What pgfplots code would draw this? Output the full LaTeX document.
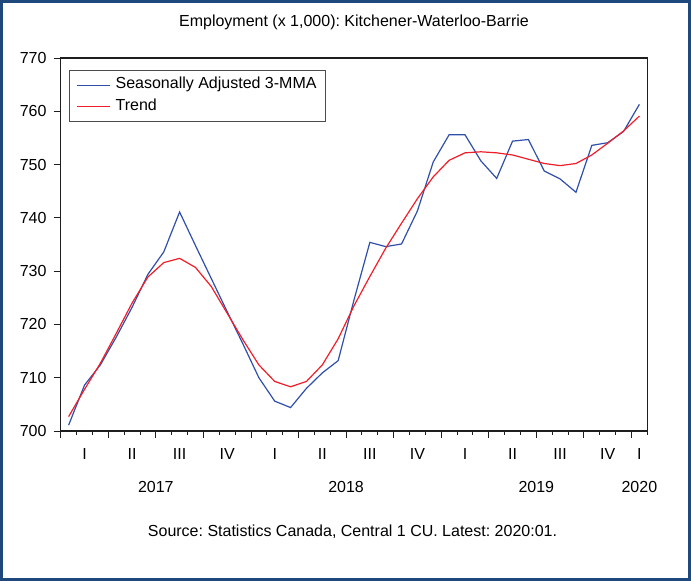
\documentclass[border=0pt]{standalone}
\usepackage{pgfplots}
\pgfplotsset{compat=1.18}
\usepackage{fontspec}
\setmainfont{Liberation Sans}
\definecolor{sablue}{RGB}{47,79,170}
\definecolor{trendred}{RGB}{240,30,40}
\definecolor{framec}{RGB}{31,73,125}
\definecolor{axisc}{RGB}{30,30,30}
\pgfplotstableread{
x sa trend
0.5 701.1 702.7
1.5 708.6 707.8
2.5 712.4 712.7
3.5 717.6 718.3
4.5 723.2 724.0
5.5 729.4 728.9
6.5 733.6 731.6
7.5 741.1 732.4
8.5 734.8 730.7
9.5 728.6 727.1
10.5 722.4 722.1
11.5 716.3 717.1
12.5 710.0 712.4
13.5 705.6 709.3
14.5 704.4 708.3
15.5 708.0 709.3
16.5 710.9 712.4
17.5 713.2 717.3
18.5 724.6 723.5
19.5 735.4 729.0
20.5 734.6 734.3
21.5 735.1 739.0
22.5 741.3 743.6
23.5 750.5 747.7
24.5 755.6 750.8
25.5 755.6 752.2
26.5 750.7 752.4
27.5 747.4 752.2
28.5 754.4 751.8
29.5 754.7 751.0
30.5 748.8 750.2
31.5 747.3 749.8
32.5 744.8 750.2
33.5 753.6 751.8
34.5 754.1 754.0
35.5 756.2 756.3
36.5 761.3 759.1
}\datatable
\begin{document}
\frenchspacing
\fontsize{16pt}{19pt}\selectfont
\begin{tikzpicture}[x=1pt,y=1pt]
\draw[framec, line width=3pt] (1.5,1.5) rectangle (689.5,579.5);
\node[anchor=base] at (354,554.3) {Employment (x 1,000): Kitchener-Waterloo-Barrie};
\node[anchor=base] at (352.5,44.3) {Source: Statistics Canada, Central 1 CU. Latest: 2020:01.};
\begin{axis}[
  at={(60.7pt,150pt)}, anchor=south west,
  scale only axis, width=586.6pt, height=373pt,
  xmin=0, xmax=37, ymin=700, ymax=770,
  ytick={700,710,...,770},
  xtick={0,3,...,36},
  minor xtick={0,...,37},
  xticklabels={},
  tick pos=left,
  tick align=outside,
  major tick length=7pt,
  minor tick length=4pt,
  every tick/.style={axisc, line width=0.9pt},
  axis line style={axisc, line width=1.3pt},
  /pgf/number format/assume math mode=true,
  yticklabel style={font=\fontsize{16pt}{19pt}\selectfont, inner sep=0pt, xshift=-7pt},
  clip=false,
  legend cell align=left,
  legend style={at={(rel axis cs:0,1)}, xshift=8.3pt, yshift=-12pt, anchor=north west,
    draw=black!70, line width=0.8pt, font=\fontsize{16pt}{19pt}\selectfont,
    inner xsep=7pt, inner ysep=4pt,
    nodes={text height=12pt, text depth=4.5pt, inner ysep=2.5pt}},
  legend image code/.code={\draw[#1] (0pt,0pt) -- (33pt,0pt); \path (36pt,0pt);},
]
\addplot[sablue, line width=1.2pt] table[x=x, y=sa] {\datatable};
\addlegendentry{Seasonally Adjusted 3-MMA}
\addplot[trendred, line width=1.2pt] table[x=x, y=trend] {\datatable};
\addlegendentry{Trend}
\node[anchor=base, yshift=-29pt] at (axis cs:1.5,700) {I};
\node[anchor=base, yshift=-29pt] at (axis cs:4.5,700) {II};
\node[anchor=base, yshift=-29pt] at (axis cs:7.5,700) {III};
\node[anchor=base, yshift=-29pt] at (axis cs:10.5,700) {IV};
\node[anchor=base, yshift=-29pt] at (axis cs:13.5,700) {I};
\node[anchor=base, yshift=-29pt] at (axis cs:16.5,700) {II};
\node[anchor=base, yshift=-29pt] at (axis cs:19.5,700) {III};
\node[anchor=base, yshift=-29pt] at (axis cs:22.5,700) {IV};
\node[anchor=base, yshift=-29pt] at (axis cs:25.5,700) {I};
\node[anchor=base, yshift=-29pt] at (axis cs:28.5,700) {II};
\node[anchor=base, yshift=-29pt] at (axis cs:31.5,700) {III};
\node[anchor=base, yshift=-29pt] at (axis cs:34.5,700) {IV};
\node[anchor=base, yshift=-29pt] at (axis cs:36.5,700) {I};
\node[anchor=base, yshift=-61.7pt] at (axis cs:6,700) {2017};
\node[anchor=base, yshift=-61.7pt] at (axis cs:18,700) {2018};
\node[anchor=base, yshift=-61.7pt] at (axis cs:30,700) {2019};
\node[anchor=base, yshift=-61.7pt] at (axis cs:36.5,700) {2020};
\end{axis}
\end{tikzpicture}
\end{document}
